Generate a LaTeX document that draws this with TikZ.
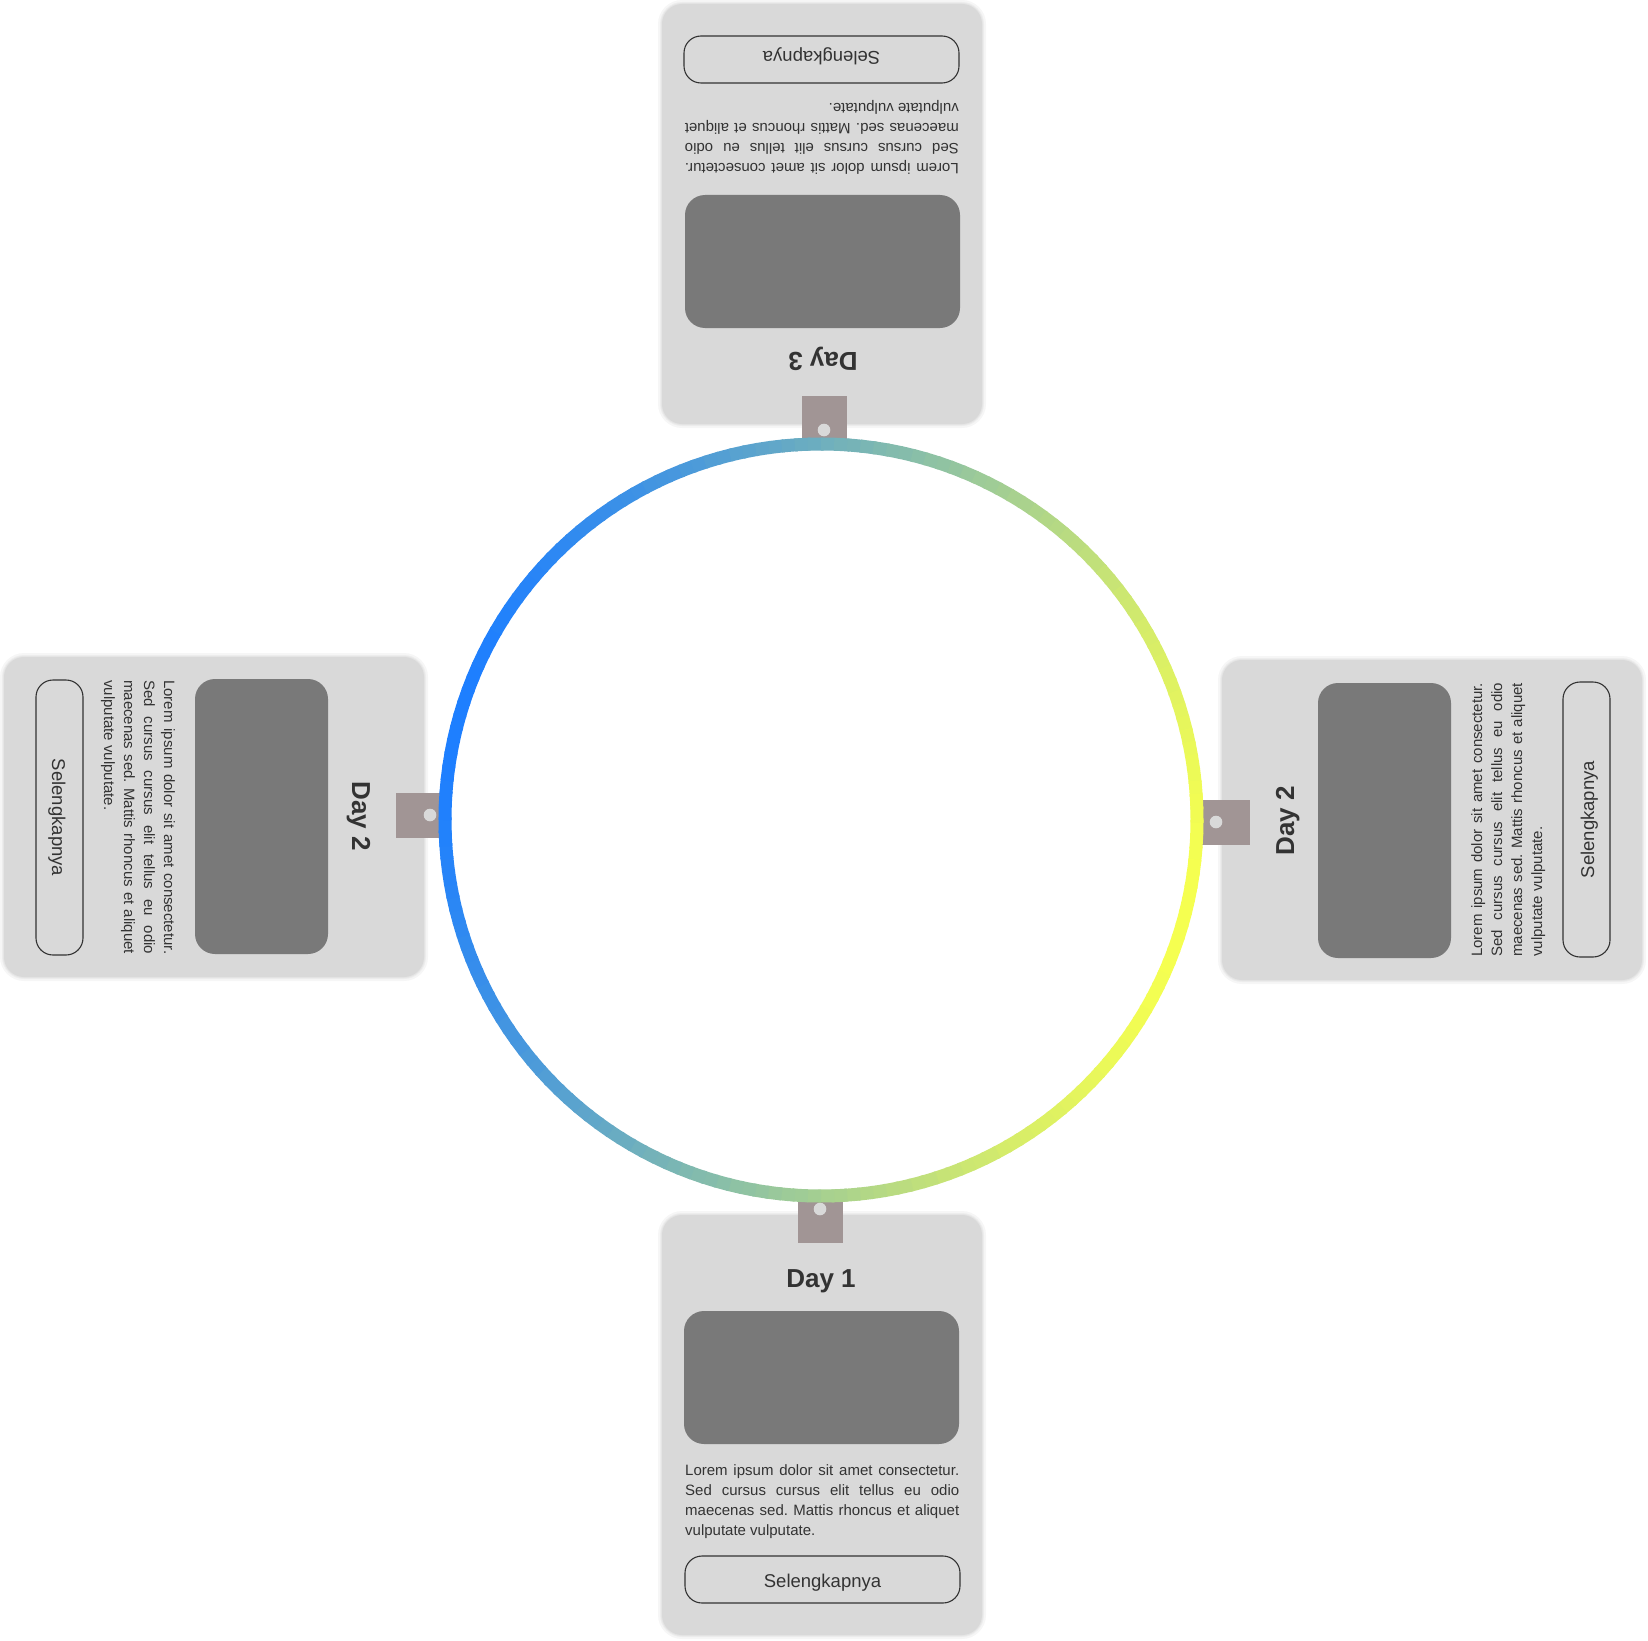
\documentclass[tikz,border=0pt]{standalone}
\usepackage{fontspec}
\setmainfont{Liberation Sans}
\frenchspacing
\definecolor{cardbg}{RGB}{217,217,217}
\definecolor{imgc}{RGB}{121,121,121}
\definecolor{tabc}{RGB}{161,149,149}
\definecolor{txt}{RGB}{51,51,51}
\definecolor{blu}{RGB}{30,127,255}
\definecolor{yel}{RGB}{245,255,80}
\tikzset{
  cardbox/.style={fill=cardbg, rounded corners=20pt},
  cardshadow/.style={fill=black, opacity=0.035},
  imgbox/.style={fill=imgc, rounded corners=20pt},
  tabbox/.style={fill=tabc},
  holedot/.style={fill=cardbg},
  titletext/.style={font=\fontsize{26}{30}\selectfont\bfseries, text=txt, inner sep=0pt, anchor=base},
  bodyline/.style={font=\fontsize{15}{20}\selectfont, text=txt, inner sep=0pt, anchor=base west},
  btnbox/.style={draw=txt, line width=1.1pt, rounded corners=17pt, minimum width=275pt, minimum height=47pt,
    text height=15pt, text depth=0pt, inner sep=0pt, font=\fontsize{18.5}{22}\selectfont, text=txt},
}
\newcommand\daycard[5]{%
\begin{scope}[shift={(#2,#3)}, rotate=#4, transform shape]
  \fill[cardshadow, rounded corners=24pt] (-164,-214) rectangle (164,214);
  \fill[cardshadow, rounded corners=22pt] (-162,-212) rectangle (162,212);
  \fill[cardshadow, rounded corners=21pt] (-161,-211) rectangle (161,211);
  \fill[cardbox] (-160,-210) rectangle (160,210);
  \fill[tabbox] (-24.5,-240) rectangle (20.5,-182);
  \fill[holedot] (-2,-216) circle (6.3);
  \node[titletext] (#1title) at (-1,-138) {#5};
  \fill[imgbox] (-138,-114) rectangle (137,19);
  \node[bodyline] (#1la) at (-137,50) {\makebox[274pt][s]{Lorem ipsum dolor sit amet consectetur.}};
  \node[bodyline] (#1lb) at (-137,70) {\makebox[274pt][s]{Sed cursus cursus elit tellus eu odio}};
  \node[bodyline] (#1lc) at (-137,90) {\makebox[274pt][s]{maecenas sed. Mattis rhoncus et aliquet}};
  \node[bodyline] (#1ld) at (-137,110) {vulputate vulputate.};
  \node[btnbox] (#1btn) at (0.5,154.5) {Selengkapnya};
\end{scope}}
\begin{document}
\begin{tikzpicture}[x=1pt,y=-1pt]
\useasboundingbox (0,0) rectangle (1648,1640);
\daycard{b}{822}{1425}{0}{Day 1}
\daycard{t}{822}{214}{180}{Day 3}
\daycard{l}{214}{817}{-90}{Day 2}
\daycard{r}{1432}{820}{90}{Day 2}
\begin{scope}[shift={(821,820)}]
  \fill[white] (0,0) circle (376);
  \foreach \a in {0,2,...,358} {
    \pgfmathtruncatemacro\s{round(50*(cos(\a+1-15)+1))}
    \draw[line width=13pt, color=yel!\s!blu] (\a:376) arc[start angle=\a, end angle=\a+2.4, radius=376];
  }
\end{scope}
\end{tikzpicture}
\end{document}
